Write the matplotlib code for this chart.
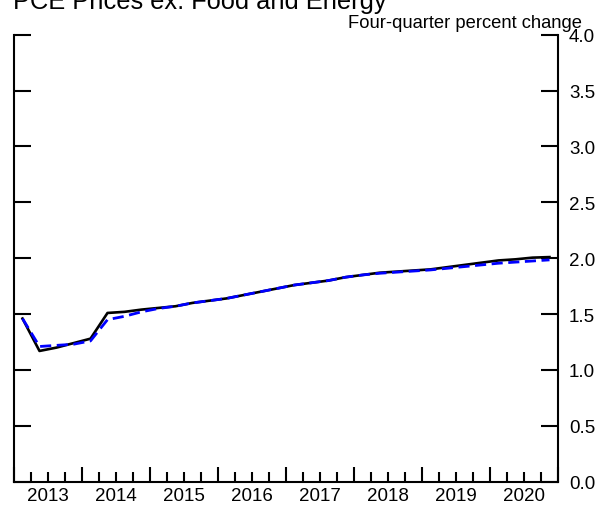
import numpy as np
import matplotlib
matplotlib.use("Agg")
import matplotlib.pyplot as plt
from matplotlib.ticker import FixedLocator, FixedFormatter

plt.rcParams['font.family'] = ['Liberation Sans', 'DejaVu Sans']

# quarterly data, 2013Q1 .. 2020Q4
years = list(range(2013, 2021))
black = [1.46, 1.17, 1.20, 1.24, 1.28, 1.51, 1.52, 1.54,
         1.555, 1.57, 1.60, 1.62, 1.64, 1.67, 1.70, 1.73,
         1.76, 1.78, 1.80, 1.83, 1.85, 1.87, 1.88, 1.89,
         1.90, 1.92, 1.94, 1.96, 1.98, 1.99, 2.005, 2.01]
blue = [1.46, 1.21, 1.22, 1.23, 1.26, 1.45, 1.48, 1.52,
        1.55, 1.57, 1.60, 1.62, 1.64, 1.67, 1.70, 1.73,
        1.76, 1.78, 1.80, 1.83, 1.85, 1.865, 1.875, 1.885,
        1.895, 1.91, 1.925, 1.94, 1.955, 1.965, 1.975, 1.985]
yticks = [0.0, 0.5, 1.0, 1.5, 2.0, 2.5, 3.0, 3.5, 4.0]

x = 2013 + (np.arange(len(black)) + 0.5) / 4.0

fig = plt.figure(figsize=(6.06, 5.06), dpi=100)
ax = fig.add_axes([14/606, 1-482.7/506, (558-14)/606, (482.7-35.7)/506])

ax.plot(x, black, color='black', lw=1.9, zorder=2)
ax.plot(x, blue, color='#0000ff', lw=2.0, dashes=(4, 2), zorder=3)

ax.set_xlim(2013, 2021)
ax.set_ylim(0, 4)

for s in ['left', 'right', 'bottom']:
    ax.spines[s].set_linewidth(1.5)
ax.spines['top'].set_visible(False)

# x axis: year boundaries long, quarters short, labels at mid-year
ax.xaxis.set_major_locator(FixedLocator(list(range(2013, 2022))))
ax.xaxis.set_major_formatter(FixedFormatter([''] * 9))
qpos = []
qlab = []
for yr in years:
    for q in (1, 2, 3):
        qpos.append(yr + q / 4.0)
        qlab.append(str(yr) if q == 2 else '')
ax.xaxis.set_minor_locator(FixedLocator(qpos))
ax.xaxis.set_minor_formatter(FixedFormatter(qlab))
ax.tick_params(axis='x', which='major', direction='in', length=10.5, width=1.5)
ax.tick_params(axis='x', which='minor', direction='in', length=7.5, width=1.5,
               labelsize=13.5, pad=4)

# y axis: ticks both sides, labels right
ax.set_yticks(yticks)
ax.set_yticklabels(['%.1f' % v for v in yticks])
ax.yaxis.set_minor_locator(FixedLocator([4.0]))
ax.tick_params(axis='y', which='major', direction='in', length=12, width=1.5,
               left=True, right=True, labelleft=False, labelright=True,
               labelsize=13.5, pad=8)
ax.tick_params(axis='y', which='minor', direction='in', length=18, width=1.5,
               left=True, right=True)

fig.text(13/606, 1-9/506, 'PCE Prices ex. Food and Energy', fontsize=18.3,
         ha='left', va='baseline')
fig.text(582/606, 1-28/506, 'Four-quarter percent change', fontsize=13.2,
         ha='right', va='baseline')

fig.savefig('out.png', dpi=100)
